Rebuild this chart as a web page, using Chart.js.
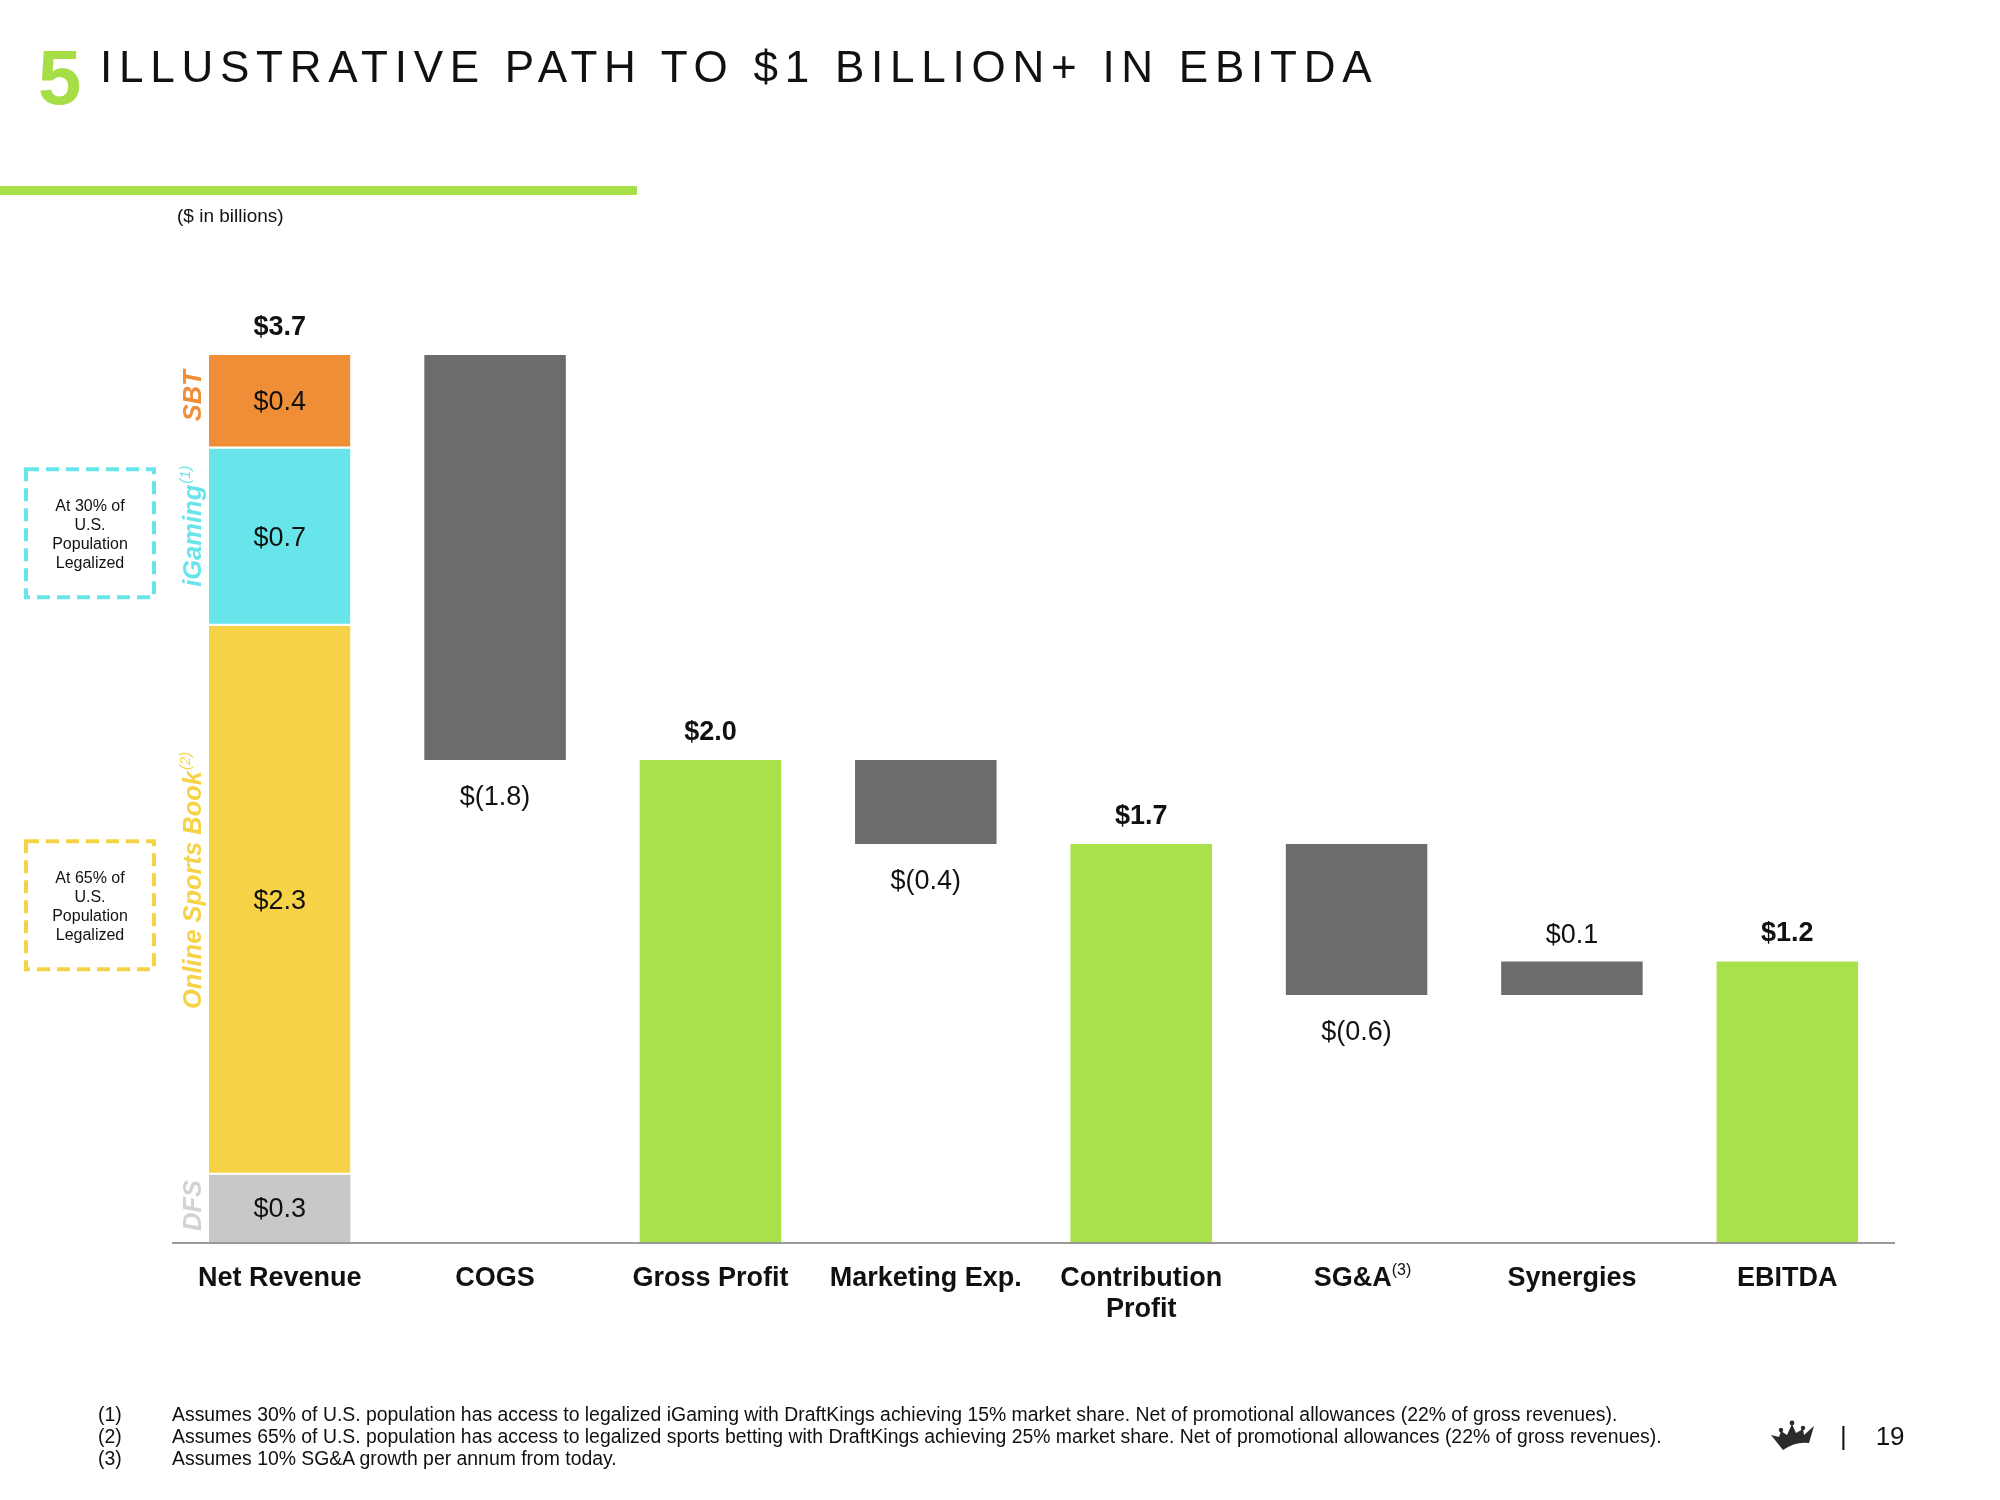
<!DOCTYPE html>
<html>
<head>
<meta charset="utf-8">
<script src="https://cdn.jsdelivr.net/npm/chart.js@4.4.1/dist/chart.umd.min.js"></script>
<style>
  html, body { margin:0; padding:0; background:#ffffff; }
  body { width:2000px; height:1500px; position:relative; overflow:hidden; font-family:'Liberation Sans', Arial, sans-serif; }
  #c { position:absolute; left:0; top:0; }
  .abs { position:absolute; white-space:nowrap; }
  #num { left:38px; top:38px; font-size:78px; line-height:78px; font-weight:bold; color:#A6DE45; }
  #title { left:100px; top:45px; font-size:44px; line-height:44px; letter-spacing:6.75px; color:#111; }
  #rule { left:0; top:186px; width:637px; height:9px; background:#A8E04A; }
  #unit { left:177px; top:206px; font-size:19px; line-height:19px; color:#111; }
  .fn { font-size:19.4px; line-height:19.4px; color:#111; }
  #pg { left:1840px; top:1423px; font-size:26px; line-height:26px; color:#111; }
  #logo { left:1770px; top:1420px; width:46px; height:32px; }
</style>
</head>
<body>
<canvas id="c" width="2000" height="1500"></canvas>
<div id="num" class="abs">5</div>
<div id="title" class="abs">ILLUSTRATIVE PATH TO $1 BILLION+ IN EBITDA</div>
<div id="rule" class="abs"></div>
<div id="unit" class="abs">($ in billions)</div>
<div class="abs fn" style="left:98px;top:1405px">(1)</div>
<div class="abs fn" style="left:172px;top:1405px">Assumes 30% of U.S. population has access to legalized iGaming with DraftKings achieving 15% market share. Net of promotional allowances (22% of gross revenues).</div>
<div class="abs fn" style="left:98px;top:1427px">(2)</div>
<div class="abs fn" style="left:172px;top:1427px">Assumes 65% of U.S. population has access to legalized sports betting with DraftKings achieving 25% market share. Net of promotional allowances (22% of gross revenues).</div>
<div class="abs fn" style="left:98px;top:1449px">(3)</div>
<div class="abs fn" style="left:172px;top:1449px">Assumes 10% SG&amp;A growth per annum from today.</div>
<svg id="logo" class="abs" viewBox="0 0 46 32">
  <path d="M1 15 L9 17 L11 11 L17 15 L22 4 L26 13 L33 9 L34 15 L44 6 L39 23 Q26 21 13 30 Z" fill="#2b2b2b"/>
  <circle cx="11" cy="10" r="2.2" fill="#2b2b2b"/>
  <circle cx="22" cy="3" r="2.4" fill="#2b2b2b"/>
  <circle cx="33" cy="8" r="2.2" fill="#2b2b2b"/>
</svg>
<div id="pg" class="abs">|&nbsp;&nbsp;&nbsp;&nbsp;19</div>

<script>
// ---- Data ----
const categories = ['Net Revenue', 'COGS', 'Gross Profit', 'Marketing Exp.', ['Contribution', 'Profit'], 'SG&A', 'Synergies', 'EBITDA'];
const categoryNotes = ['', '', '', '', '', '(3)', '', ''];

const segmentNames = ['DFS', 'Online Sports Book', 'iGaming', 'SBT'];
const segmentNotes = ['', '(2)', '(1)', ''];
const segmentValues = [0.28, 2.29, 0.74, 0.39];
const segmentLabels = ['$0.3', '$2.3', '$0.7', '$0.4'];

const stepKinds  = ['stacked', 'delta', 'total', 'delta', 'total', 'delta', 'delta', 'total'];
const stepValues = [3.70, -1.69, 2.01, -0.35, 1.66, -0.63, 0.14, 1.17];
const stepLabels = ['$3.7', '$(1.8)', '$2.0', '$(0.4)', '$1.7', '$(0.6)', '$0.1', '$1.2'];

const boxNotes = [
  { lines: ['At 30% of', 'U.S.', 'Population', 'Legalized'], segment: 2 },
  { lines: ['At 65% of', 'U.S.', 'Population', 'Legalized'], segment: 1 }
];

// ---- Styles ----
const segmentColors = ['#C8C8C8', '#F6D246', '#67E5EA', '#EF8E37'];
const labelColors   = ['#D2D2D2', '#F6D246', '#67E5EA', '#EF8E37'];
const labelShift    = [-3, -20, -11, -6];
const totalColor = '#A9E14B';
const deltaColor = '#6C6C6C';
const FONT = "'Liberation Sans', Arial, sans-serif";

// ---- Build datasets ----
const n = categories.length;
const segDatasets = [];
let acc = 0;
segmentValues.forEach((v, s) => {
  const d = new Array(n).fill(null);
  d[0] = [acc, acc + v];
  acc += v;
  segDatasets.push({
    label: segmentNames[s], data: d, backgroundColor: segmentColors[s],
    borderColor: '#ffffff', borderWidth: s === 0 ? 0 : { top: 0, bottom: 2, left: 0, right: 0 }, borderSkipped: false
  });
});
const totalData = new Array(n).fill(null);
const deltaData = new Array(n).fill(null);
let level = 0;
stepKinds.forEach((k, i) => {
  const v = stepValues[i];
  if (k === 'stacked') { level = v; }
  else if (k === 'total') { totalData[i] = [0, v]; level = v; }
  else { deltaData[i] = [level, level + v]; level += v; }
});

const barCommon = { grouped: false, categoryPercentage: 1.0, barPercentage: 0.657 };
const datasets = [
  ...segDatasets.map(d => Object.assign({}, barCommon, d)),
  Object.assign({}, barCommon, { label: 'Totals', data: totalData, backgroundColor: totalColor, borderWidth: 0 }),
  Object.assign({}, barCommon, { label: 'Changes', data: deltaData, backgroundColor: deltaColor, borderWidth: 0 })
];

function drawWithNote(ctx, text, note, cx, baseline, font, noteFont, noteRise, gap) {
  ctx.font = font;
  const w = ctx.measureText(text).width;
  ctx.font = noteFont;
  const wn = note ? ctx.measureText(note).width + gap : 0;
  const start = cx - (w + wn) / 2;
  ctx.textAlign = 'left';
  ctx.textBaseline = 'alphabetic';
  ctx.font = font;
  ctx.fillText(text, start, baseline);
  if (note) { ctx.font = noteFont; ctx.fillText(note, start + w + gap, baseline - noteRise); }
}

const labelPlugin = {
  id: 'waterfallLabels',
  afterDatasetsDraw(chart) {
    const ctx = chart.ctx;
    const xs = chart.scales.x, ys = chart.scales.y;
    const area = chart.chartArea;
    ctx.save();
    // baseline
    ctx.strokeStyle = '#9A9A9A'; ctx.lineWidth = 2;
    const y0 = ys.getPixelForValue(0);
    ctx.beginPath(); ctx.moveTo(area.left, y0 + 1); ctx.lineTo(area.right, y0 + 1); ctx.stroke();

    // segment labels inside and rotated names
    segmentValues.forEach((v, s) => {
      const el = chart.getDatasetMeta(s).data[0];
      const top = Math.min(el.y, el.base), bot = Math.max(el.y, el.base);
      const cy = (top + bot) / 2;
      ctx.fillStyle = '#111'; ctx.font = '27px ' + FONT;
      ctx.textAlign = 'center'; ctx.textBaseline = 'middle';
      ctx.fillText(segmentLabels[s], el.x, cy + 1);
      // rotated
      ctx.save();
      ctx.translate(el.x - el.width / 2 - 17, cy + labelShift[s]);
      ctx.rotate(-Math.PI / 2);
      ctx.fillStyle = labelColors[s];
      drawWithNote(ctx, segmentNames[s], segmentNotes[s], 0, 9, 'italic bold 25.5px ' + FONT, 'italic 15px ' + FONT, 11, 1);
      ctx.restore();
    });

    // step labels
    stepKinds.forEach((k, i) => {
      let top, bot, x;
      if (k === 'stacked') {
        const el = chart.getDatasetMeta(segmentValues.length - 1).data[0];
        top = Math.min(el.y, el.base); x = el.x;
      } else {
        const meta = chart.getDatasetMeta(k === 'total' ? segmentValues.length : segmentValues.length + 1);
        const el = meta.data[i];
        top = Math.min(el.y, el.base); bot = Math.max(el.y, el.base); x = el.x;
      }
      ctx.fillStyle = '#111'; ctx.textAlign = 'center'; ctx.textBaseline = 'alphabetic';
      if (k === 'stacked' || k === 'total') {
        ctx.font = 'bold 27px ' + FONT;
        ctx.fillText(stepLabels[i], x, top - 20);
      } else if (stepValues[i] < 0) {
        ctx.font = '27px ' + FONT;
        ctx.fillText(stepLabels[i], x, bot + 45);
      } else {
        ctx.font = '27px ' + FONT;
        ctx.fillText(stepLabels[i], x, top - 18);
      }
    });

    // category labels
    categories.forEach((c, i) => {
      const cx = xs.getPixelForValue(i);
      const lines = Array.isArray(c) ? c : [c];
      ctx.fillStyle = '#111';
      lines.forEach((ln, j) => {
        drawWithNote(ctx, ln, j === 0 ? categoryNotes[i] : '', cx + (categoryNotes[i] ? 6 : 0), y0 + 44 + j * 31, 'bold 27px ' + FONT, '16px ' + FONT, 11, 0);
      });
    });

    // dashed note boxes
    boxNotes.forEach(b => {
      const el = chart.getDatasetMeta(b.segment).data[0];
      const col = segmentColors[b.segment];
      const top = Math.min(el.y, el.base), bot = Math.max(el.y, el.base);
      const cy = b.segment === 2 ? (top + bot) / 2 - 4 : (top + bot) / 2 + 5;
      ctx.strokeStyle = col; ctx.lineWidth = 4; ctx.setLineDash([13, 7]);
      ctx.strokeRect(26, cy - 64, 128, 128);
      ctx.setLineDash([]);
      ctx.fillStyle = '#111'; ctx.font = '16px ' + FONT;
      ctx.textAlign = 'center'; ctx.textBaseline = 'middle';
      b.lines.forEach((ln, j) => ctx.fillText(ln, 90, cy - 27 + j * 19));
    });
    ctx.restore();
  }
};

new Chart(document.getElementById('c'), {
  type: 'bar',
  data: { labels: categories, datasets },
  options: {
    responsive: false,
    animation: false,
    devicePixelRatio: 1,
    layout: { padding: { left: 172, right: 105, top: 283, bottom: 258 } },
    plugins: { legend: { display: false }, tooltip: { enabled: false } },
    scales: {
      x: { display: false, offset: true },
      y: { display: false, min: 0, max: 4.0 }
    }
  },
  plugins: [labelPlugin]
});
</script>
</body>
</html>
